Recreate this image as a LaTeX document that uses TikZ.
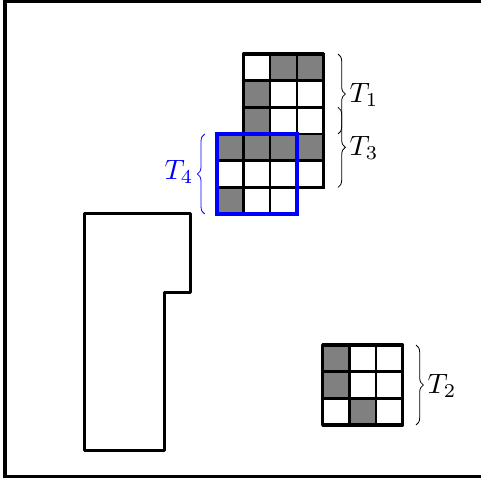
\documentclass[tikz,border=0pt]{standalone}
\usetikzlibrary{decorations.pathreplacing}
\begin{document}
\begin{tikzpicture}[x=0.75pt,y=-0.75pt,
  frame/.style={line width=2.4pt},
  cellline/.style={line width=1.8pt},
  outline/.style={line width=2.4pt, line join=round},
  bluebox/.style={blue, line width=2.7pt},
  grayfill/.style={fill=gray},
  bracestyle/.style={decorate, decoration={brace, amplitude=5.5pt}, line width=0.6pt},
  lbl/.style={scale=2.1, inner sep=0pt}]
\useasboundingbox (0,0) rectangle (480,483);
% outer frame (runs past right edge)
\draw[frame] (5,1.5) rectangle (495,476.7);
% polygon
\draw[outline] (84.7,213.3) -- (190.7,213.3) -- (190.7,292.3) -- (164.7,292.3) -- (164.7,450.7) -- (84.7,450.7) -- cycle;
% main grid
\begin{scope}[shift={(216.7,54)}, x=20pt, y=-20pt]
  \foreach \c/\r in {2/0,3/0,1/1,1/2,0/3,1/3,2/3,3/3,0/5}
    \fill[grayfill] (\c,\r) rectangle ++(1,1);
  \foreach \c/\r in {1/0,2/0,3/0,1/1,2/1,3/1,1/2,2/2,3/2,0/3,1/3,2/3,3/3,0/4,1/4,2/4,3/4,0/5,1/5,2/5}
    \draw[cellline] (\c,\r) rectangle ++(1,1);
  \draw[outline] (1,0) -- (4,0) -- (4,5) -- (3,5) -- (3,6) -- (0,6) -- (0,3) -- (1,3) -- cycle;
  \draw[bluebox] (0,3) rectangle (3,6);
  \coordinate (b1a) at (4.55,0);
  \coordinate (b1b) at (4.55,3);
  \coordinate (b3a) at (4.55,2);
  \coordinate (b3b) at (4.55,5);
  \coordinate (b4a) at (-0.45,6);
  \coordinate (b4b) at (-0.45,3);
\end{scope}
% T2 grid
\begin{scope}[shift={(322.7,345)}, x=20pt, y=-20pt]
  \foreach \c/\r in {0/0,0/1,1/2}
    \fill[grayfill] (\c,\r) rectangle ++(1,1);
  \foreach \c in {0,1,2} \foreach \r in {0,1,2}
    \draw[cellline] (\c,\r) rectangle ++(1,1);
  \draw[outline] (0,0) rectangle (3,3);
  \coordinate (b2a) at (3.5,0);
  \coordinate (b2b) at (3.5,3);
\end{scope}
% braces
\draw[bracestyle] (b1a) -- (b1b);
\draw[bracestyle] (b3a) -- (b3b);
\draw[bracestyle, blue] (b4a) -- (b4b);
\draw[bracestyle] (b2a) -- (b2b);
% labels
\node[lbl, anchor=west] (t1) at (349,95) {$T_1$};
\node[lbl, anchor=west] (t3) at (349,148) {$T_3$};
\node[lbl, anchor=east, blue] (t4) at (194,172) {$T_4$};
\node[lbl, anchor=west] (t2) at (427,386) {$T_2$};
\end{tikzpicture}
\end{document}
